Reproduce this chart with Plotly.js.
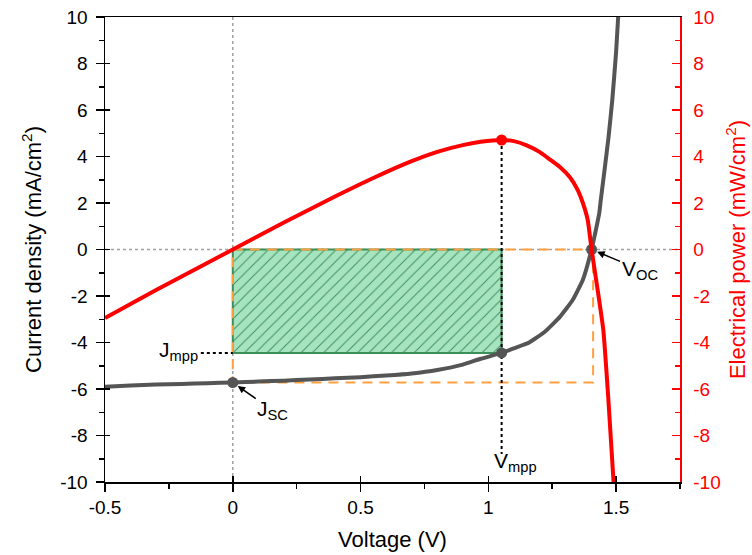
<!DOCTYPE html>
<html>
<head>
<meta charset="utf-8">
<script src="https://cdn.plot.ly/plotly-3.0.1.min.js"></script>
<style>html,body{margin:0;padding:0;background:#fff;}#chart{width:752px;height:555px;}</style>
</head>
<body>
<div id="chart"></div>
<script>
// J-V curve (gray), voltage in V, current density in mA/cm2
const jvV = [-0.5, -0.4, -0.3, -0.2, -0.1, 0, 0.1, 0.2, 0.3, 0.4, 0.5, 0.6, 0.7, 0.8, 0.9, 0.97, 1.052, 1.1, 1.16, 1.22, 1.28, 1.33, 1.37, 1.404, 1.42, 1.434, 1.44, 1.45, 1.47, 1.485, 1.50, 1.508];
const jvJ = [-5.9, -5.85, -5.81, -5.78, -5.75, -5.72, -5.68, -5.64, -5.59, -5.54, -5.49, -5.42, -5.33, -5.18, -4.95, -4.7, -4.45, -4.25, -4.0, -3.55, -2.9, -2.17, -1.3, 0, 0.8, 1.56, 2.13, 3.0, 4.8, 6.43, 8.5, 10];
// Electrical power curve (red), mW/cm2
const pV = [-0.5, -0.4, -0.3, -0.2, -0.1, 0, 0.1, 0.2, 0.3, 0.4, 0.5, 0.6, 0.7, 0.8, 0.9, 0.97, 1.052, 1.10, 1.15, 1.20, 1.24, 1.28, 1.32, 1.35, 1.37, 1.389, 1.404, 1.434, 1.45, 1.469, 1.49];
const pP = [-2.95, -2.34, -1.74, -1.16, -0.58, 0, 0.58, 1.16, 1.72, 2.28, 2.82, 3.33, 3.8, 4.2, 4.49, 4.63, 4.71, 4.66, 4.48, 4.2, 3.88, 3.55, 3.1, 2.55, 2.0, 1.27, 0, -2.2, -3.46, -6.33, -10];
// key points
const Vmpp = 1.052, Jmpp = -4.45, Pmax = 4.71;
const Jsc = -5.72, Voc = 1.404;
const Vrect = 1.41; // right edge of dashed Voc*Jsc rectangle
const VmppLineEnd = -8.8;
const JmppLineStart = -0.125;
// axes
const xTicks = [-0.5, 0, 0.5, 1, 1.5];
const xTickText = ['-0.5', '0', '0.5', '1', '1.5'];
const yTicks = [-10, -8, -6, -4, -2, 0, 2, 4, 6, 8, 10];
const yTickText = ['-10', '-8', '-6', '-4', '-2', '0', '2', '4', '6', '8', '10'];
const xRange = [-0.5, 1.75];
const yRange = [-10, 10];

const GRAY = '#555555', RED = '#ff0000', ORANGE = '#ffa040';
const FONT = 'Liberation Sans, Arial, sans-serif';
const TICKSZ = 19, TITLESZ = 22, LABSZ = 21;

const traces = [
  // zero guide lines
  {x: [xRange[0], xRange[1]], y: [0, 0], mode: 'lines', line: {color: '#a0a0a0', width: 1.5, dash: 'dot'}, hoverinfo: 'skip'},
  {x: [0, 0], y: [yRange[0], yRange[1]], mode: 'lines', line: {color: '#a0a0a0', width: 1.5, dash: 'dot'}, hoverinfo: 'skip'},
  // green hatched rectangle Vmpp x Jmpp
  {x: [0, Vmpp, Vmpp, 0, 0], y: [0, 0, Jmpp, Jmpp, 0], mode: 'lines', fill: 'toself',
   fillcolor: '#a6e4bf',
   fillpattern: {shape: '/', fgcolor: '#3f8f5c', bgcolor: '#a6e4bf', size: 8, solidity: 0.12},
   line: {color: '#3d8f5a', width: 2}, hoverinfo: 'skip'},
  // orange dashed rectangle Voc x Jsc
  {x: [0, Vrect, Vrect, 0, 0], y: [0, 0, Jsc, Jsc, 0], mode: 'lines', line: {color: ORANGE, width: 2, dash: '10px,7px'}, hoverinfo: 'skip'},
  // dotted helper lines
  {x: [Vmpp, Vmpp], y: [Pmax, VmppLineEnd], mode: 'lines', line: {color: '#000', width: 2, dash: 'dot'}, hoverinfo: 'skip'},
  {x: [JmppLineStart, 0], y: [Jmpp, Jmpp], mode: 'lines', line: {color: '#000', width: 2, dash: 'dot'}, hoverinfo: 'skip'},
  // J-V curve
  {x: jvV, y: jvJ, mode: 'lines', line: {color: GRAY, width: 4, shape: 'spline', smoothing: 0.4}},
  // power curve
  {x: pV, y: pP, yaxis: 'y2', mode: 'lines', line: {color: RED, width: 4, shape: 'spline', smoothing: 0.4}},
  // markers
  {x: [0, Vmpp, Voc], y: [Jsc, Jmpp, 0], mode: 'markers', marker: {color: GRAY, size: 11}},
  {x: [Vmpp], y: [Pmax], yaxis: 'y2', mode: 'markers', marker: {color: RED, size: 11}},
  // dummy trace carrying the inner-tick overlay axes
  {x: [null], y: [null], xaxis: 'x2', yaxis: 'y3', mode: 'markers', hoverinfo: 'skip'}
];

const layout = {
  width: 752, height: 555,
  margin: {l: 105, r: 72, t: 17, b: 73},
  paper_bgcolor: '#fff', plot_bgcolor: '#fff',
  showlegend: false,
  font: {family: FONT, size: 16, color: '#000'},
  xaxis: {
    range: xRange, tickvals: xTicks, ticktext: xTickText,
    ticks: 'outside', ticklen: 8, tickwidth: 1.5, tickcolor: '#000',
    minor: {dtick: 0.25, tick0: 0, ticks: 'outside', ticklen: 5, tickwidth: 1.5, tickcolor: '#000'},
    showline: true, linecolor: '#000', linewidth: 1.5, mirror: true,
    showgrid: false, zeroline: false,
    tickfont: {size: TICKSZ, family: FONT, color: '#000'},
    title: {text: 'Voltage (V)', font: {size: TITLESZ, family: FONT, color: '#000'}, standoff: 14}
  },
  xaxis2: {
    overlaying: 'x', anchor: 'y3', side: 'bottom', range: xRange, tickvals: xTicks,
    ticks: 'inside', ticklen: 6, tickwidth: 1.5, tickcolor: '#000',
    showticklabels: false, showline: false, showgrid: false, zeroline: false
  },
  yaxis: {
    range: yRange, tickvals: yTicks, ticktext: yTickText,
    ticks: 'outside', ticklen: 8, tickwidth: 1.5, tickcolor: '#000',
    minor: {dtick: 1, tick0: 0, ticks: 'outside', ticklen: 5, tickwidth: 1.5, tickcolor: '#000'},
    showline: true, linecolor: '#000', linewidth: 1.5,
    showgrid: false, zeroline: false, ticklabelstandoff: 4,
    tickfont: {size: TICKSZ, family: FONT, color: '#000'},
    title: {text: 'Current density (mA/cm<sup>2</sup>)', font: {size: TITLESZ, family: FONT, color: '#000'}, standoff: 12}
  },
  yaxis3: {
    overlaying: 'y', anchor: 'x2', side: 'left', range: yRange, tickvals: yTicks,
    ticks: 'inside', ticklen: 5, tickwidth: 1.5, tickcolor: '#000',
    showticklabels: false, showline: false, showgrid: false, zeroline: false
  },
  yaxis2: {
    overlaying: 'y', side: 'right',
    range: yRange, tickvals: yTicks, ticktext: yTickText,
    ticks: 'inside', ticklen: 8, tickwidth: 1.5, tickcolor: RED,
    minor: {dtick: 1, tick0: 0, ticks: 'inside', ticklen: 5, tickwidth: 1.5, tickcolor: RED},
    showline: true, linecolor: RED, linewidth: 1.5,
    showgrid: false, zeroline: false, ticklabelstandoff: 8,
    tickfont: {size: TICKSZ, family: FONT, color: RED},
    title: {text: 'Electrical power (mW/cm<sup>2</sup>)', font: {size: TITLESZ, family: FONT, color: RED}, standoff: 10}
  },
  annotations: [
    {x: 0, y: Jsc, xref: 'x', yref: 'y', text: 'J<sub>SC</sub>', showarrow: true, arrowhead: 2, arrowsize: 1, arrowwidth: 1.5, arrowcolor: '#000', ax: 40, ay: 28, standoff: 6, font: {size: LABSZ, family: FONT, color: '#000'}},
    {x: Voc, y: 0, xref: 'x', yref: 'y', text: 'V<sub>OC</sub>', showarrow: true, arrowhead: 2, arrowsize: 1, arrowwidth: 1.5, arrowcolor: '#000', ax: 48, ay: 20, standoff: 6, font: {size: LABSZ, family: FONT, color: '#000'}},
    {x: JmppLineStart, y: Jmpp, xref: 'x', yref: 'y', xanchor: 'right', yanchor: 'middle', text: 'J<sub>mpp</sub>', showarrow: false, xshift: -1, yshift: 2, font: {size: LABSZ, family: FONT, color: '#000'}},
    {x: Vmpp, y: VmppLineEnd, xref: 'x', yref: 'y', xanchor: 'left', yanchor: 'top', text: 'V<sub>mpp</sub>', showarrow: false, xshift: -10, yshift: 7, font: {size: LABSZ, family: FONT, color: '#000'}}
  ]
};

Plotly.newPlot('chart', traces, layout, {displayModeBar: false, staticPlot: true});
</script>
</body>
</html>
